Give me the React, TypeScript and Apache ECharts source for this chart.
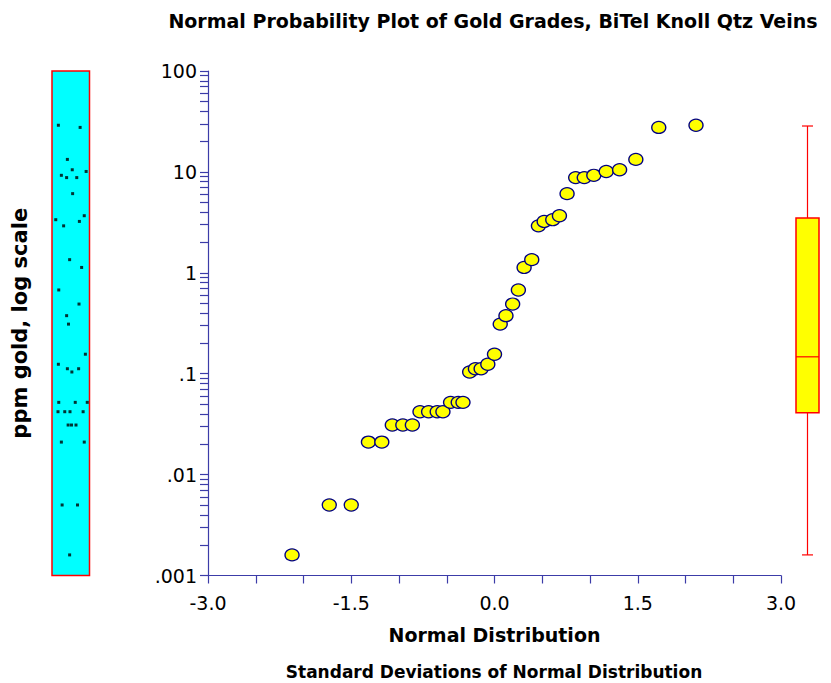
import React, { useEffect, useRef } from "react";
import * as echarts from "echarts";

// Normal scores (standard deviations)
const xScores = [
  -2.12, -1.73, -1.5, -1.32, -1.18, -1.07, -0.96, -0.86, -0.78, -0.69, -0.6, -0.54, -0.46,
  -0.38, -0.33, -0.26, -0.2, -0.14, -0.07, 0.0, 0.06, 0.12, 0.19, 0.25, 0.31, 0.39, 0.46,
  0.52, 0.61, 0.68, 0.76, 0.85, 0.94, 1.04, 1.17, 1.31, 1.48, 1.72, 2.11,
];
// Gold grades, ppm (sorted)
const goldPpm = [
  0.0016, 0.005, 0.005, 0.021, 0.021, 0.031, 0.031, 0.031, 0.042, 0.042, 0.042, 0.042, 0.052,
  0.052, 0.052, 0.104, 0.112, 0.112, 0.124, 0.156, 0.31, 0.376, 0.49, 0.676, 1.13, 1.35, 2.92,
  3.23, 3.36, 3.68, 6.09, 8.78, 8.78, 9.25, 10.1, 10.5, 13.3, 27.6, 29.0,
];
// Horizontal jitter of each value in the left dot strip (0..1 across the strip)
const stripJitter = [
  0.47, 0.27, 0.68, 0.25, 0.86, 0.43, 0.52, 0.64, 0.16, 0.34, 0.48, 0.83, 0.18, 0.62, 0.94,
  0.53, 0.41, 0.71, 0.17, 0.89, 0.44, 0.39, 0.72, 0.18, 0.79, 0.47, 0.31, 0.73, 0.1, 0.86,
  0.55, 0.39, 0.66, 0.25, 0.91, 0.54, 0.41, 0.75, 0.17,
];
// Box plot: min, Q1, median, Q3, max
const boxStats = [0.0016, 0.041, 0.147, 3.5, 28.5];
// Tick labels
const yTickLabels = [".001", ".01", ".1", "1", "10", "100"];
const xTickLabels = ["-3.0", "-1.5", "0.0", "1.5", "3.0"];
const minorMultipliers = [1, 2, 3, 4, 5, 6, 7, 8, 9];
const decades = [0.001, 0.01, 0.1, 1, 10];

const AXIS = "#3c3ca8";
const FONT = "DejaVu Sans";

export default function App() {
  const ref = useRef<HTMLDivElement>(null);
  useEffect(() => {
    if (!ref.current) return;
    const chart = echarts.init(ref.current, undefined, { renderer: "svg" });

    const yTicks: number[] = [];
    decades.forEach((d) => minorMultipliers.forEach((m) => yTicks.push(+(d * m).toPrecision(6))));
    yTicks.push(100);

    const mainData = xScores.map((x, i) => [x, goldPpm[i]]);
    const stripData = stripJitter.map((j, i) => [j, goldPpm[i]]);

    const logY = {
      type: "log" as const,
      logBase: 10,
      min: 0.001,
      max: 100,
    };

    chart.setOption({
      animation: false,
      backgroundColor: "#ffffff",
      textStyle: { fontFamily: FONT },
      grid: [
        {
          left: 52,
          top: 71,
          width: 37.5,
          height: 504.5,
          show: true,
          backgroundColor: "#00FFFF",
          borderColor: "#FF0000",
          borderWidth: 1.5,
        },
        { left: 208, top: 71, width: 573, height: 504.5 },
        { left: 790, top: 71, width: 35, height: 504.5 },
      ],
      xAxis: [
        { gridIndex: 0, type: "value", min: 0, max: 1, show: false },
        {
          gridIndex: 1,
          type: "value",
          min: -3,
          max: 3,
          interval: 0.5,
          splitLine: { show: false },
          axisLine: { show: true, onZero: false, lineStyle: { color: AXIS, width: 1.2 } },
          axisTick: { show: true, length: 8, lineStyle: { color: AXIS, width: 1.2 } },
          axisLabel: {
            margin: 18,
            color: "#000",
            fontSize: 19,
            fontFamily: FONT,
            formatter: (v: number) => {
              const k = (v + 3) / 1.5;
              return Math.abs(k - Math.round(k)) < 1e-6 ? xTickLabels[Math.round(k)] : "";
            },
          },
          name: "Normal Distribution",
          nameLocation: "middle",
          nameGap: 50,
          nameTextStyle: { color: "#000", fontSize: 19, fontWeight: "bold", fontFamily: FONT },
        },
        { gridIndex: 2, type: "value", min: 0, max: 1, show: false },
      ],
      yAxis: [
        { gridIndex: 0, ...logY, show: false },
        {
          gridIndex: 1,
          ...logY,
          splitLine: { show: false },
          axisLine: { show: true, onZero: false, lineStyle: { color: AXIS, width: 1.2 } },
          axisTick: {
            show: true,
            length: 8,
            customValues: yTicks,
            lineStyle: { color: AXIS, width: 1.2 },
          },
          minorTick: { show: false },
          axisLabel: {
            margin: 11,
            color: "#000",
            fontSize: 19,
            fontFamily: FONT,
            formatter: (v: number) => yTickLabels[Math.round(Math.log10(v)) + 3] ?? "",
          },
          name: "ppm gold, log scale",
          nameLocation: "middle",
          nameRotate: 90,
          nameGap: 178,
          nameTextStyle: { color: "#000", fontSize: 21, fontWeight: "bold", fontFamily: FONT },
        },
        { gridIndex: 2, ...logY, show: false },
      ],
      graphic: [
        {
          type: "text",
          x: 493,
          y: 21,
          style: {
            text: "Normal Probability Plot of Gold Grades, BiTel Knoll Qtz Veins",
            align: "center",
            verticalAlign: "middle",
            fontSize: 19,
            fontWeight: "bold",
            fontFamily: FONT,
            fill: "#000",
          },
        },
        {
          type: "text",
          x: 494,
          y: 672,
          style: {
            text: "Standard Deviations of Normal Distribution",
            align: "center",
            verticalAlign: "middle",
            fontSize: 17,
            fontWeight: "bold",
            fontFamily: FONT,
            fill: "#000",
          },
        },
      ],
      series: [
        {
          type: "scatter",
          xAxisIndex: 0,
          yAxisIndex: 0,
          data: stripData,
          symbol: "rect",
          symbolSize: 3,
          itemStyle: { color: "#000" },
          silent: true,
        },
        {
          type: "scatter",
          xAxisIndex: 1,
          yAxisIndex: 1,
          data: mainData,
          symbol: "circle",
          symbolSize: [14, 12],
          itemStyle: { color: "#FFFF00", borderColor: "#000080", borderWidth: 1.3, opacity: 1 },
          silent: true,
        },
        {
          type: "custom",
          xAxisIndex: 2,
          yAxisIndex: 2,
          data: [[0.5, ...boxStats]],
          encode: { x: 0, y: [1, 2, 3, 4, 5] },
          silent: true,
          renderItem: (params: any, api: any) => {
            const x = api.value(0);
            const lo = api.coord([x, api.value(1)]);
            const q1 = api.coord([x, api.value(2)]);
            const md = api.coord([x, api.value(3)]);
            const q3 = api.coord([x, api.value(4)]);
            const hi = api.coord([x, api.value(5)]);
            const cx = lo[0];
            const hw = 11.5;
            const cw = 5.5;
            const ls = { stroke: "#FF0000", lineWidth: 1.2 };
            return {
              type: "group",
              children: [
                { type: "line", shape: { x1: cx, y1: lo[1], x2: cx, y2: q1[1] }, style: ls },
                { type: "line", shape: { x1: cx, y1: q3[1], x2: cx, y2: hi[1] }, style: ls },
                { type: "line", shape: { x1: cx - cw, y1: lo[1], x2: cx + cw, y2: lo[1] }, style: ls },
                { type: "line", shape: { x1: cx - cw, y1: hi[1], x2: cx + cw, y2: hi[1] }, style: ls },
                {
                  type: "rect",
                  shape: { x: cx - hw, y: q3[1], width: 2 * hw, height: q1[1] - q3[1] },
                  style: { fill: "#FFFF00", stroke: "#FF0000", lineWidth: 1.5 },
                },
                { type: "line", shape: { x1: cx - hw, y1: md[1], x2: cx + hw, y2: md[1] }, style: ls },
              ],
            };
          },
        },
      ],
    });
    return () => chart.dispose();
  }, []);
  return (
    <div
      ref={ref}
      style={{ position: "absolute", left: 0, top: 0, width: 831, height: 683 }}
    />
  );
}
